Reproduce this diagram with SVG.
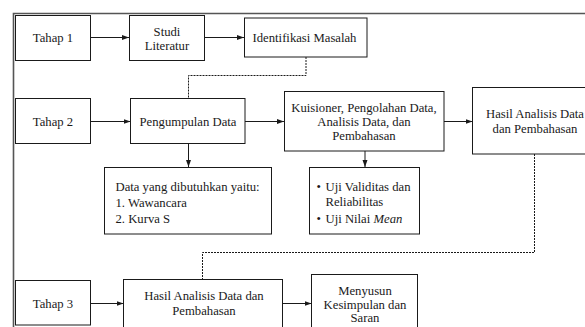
<svg xmlns="http://www.w3.org/2000/svg" width="585" height="327" viewBox="0 0 585 327">
<style>
text{font-family:'Liberation Serif',serif;font-size:12.7px;fill:#1a1a1a}
.b{fill:#fff;stroke:#1a1a1a;stroke-width:1}
.c{text-anchor:middle}
.a{stroke:#1a1a1a;stroke-width:1;fill:none}
.d{stroke:#1a1a1a;stroke-width:1;fill:none;stroke-dasharray:2 1}
</style>
<defs>
<marker id="ah" markerWidth="7" markerHeight="6" refX="7" refY="3" orient="auto" markerUnits="userSpaceOnUse">
<path d="M0,0.5 L7,3 L0,5.5 Z" fill="#1a1a1a"/>
</marker>
</defs>
<rect width="585" height="327" fill="#fff"/>
<path d="M13.5,327 L13.5,13.5 L585,13.5" fill="none" stroke="#555" stroke-width="1.6"/>
<g id="connectors">
<line class="a" x1="91" y1="37.5" x2="129" y2="37.5" marker-end="url(#ah)"/>
<line class="a" x1="204" y1="37.5" x2="244" y2="37.5" marker-end="url(#ah)"/>
<path class="d" d="M306,57 V75.5 H188.5 V98"/>
<line class="a" x1="91" y1="121.5" x2="130.5" y2="121.5" marker-end="url(#ah)"/>
<line class="a" x1="245" y1="121.5" x2="284" y2="121.5" marker-end="url(#ah)"/>
<line class="a" x1="444" y1="121.5" x2="472.5" y2="121.5" marker-end="url(#ah)"/>
<line class="a" x1="188.5" y1="143" x2="188.5" y2="167" marker-end="url(#ah)"/>
<line class="a" x1="365" y1="151" x2="365" y2="167" marker-end="url(#ah)"/>
<path class="d" d="M534.5,154 V252.5 H202.5 V279"/>
<line class="a" x1="91" y1="303.5" x2="123.5" y2="303.5" marker-end="url(#ah)"/>
<line class="a" x1="283" y1="303.5" x2="311.5" y2="303.5" marker-end="url(#ah)"/>
</g>
<g font-family="Liberation Serif">
<g id="tahap1"><rect class="b" x="15.5" y="15.5" width="75" height="45"/><text class="c" x="53" y="42" font-family="Liberation Serif">Tahap 1</text></g>
<g id="studi"><rect class="b" x="129.5" y="15.5" width="75" height="45"/><text class="c" x="167" y="35.5">Studi</text><text class="c" x="167" y="50">Literatur</text></g>
<g id="identifikasi"><rect class="b" x="244.5" y="18" width="122.5" height="39"/><text class="c" x="304.5" y="42">Identifikasi Masalah</text></g>
<g id="tahap2"><rect class="b" x="15.5" y="98.5" width="75" height="45"/><text class="c" x="53" y="126">Tahap 2</text></g>
<g id="pengumpulan"><rect class="b" x="130.5" y="98.5" width="114.5" height="45"/><text class="c" x="188" y="126">Pengumpulan Data</text></g>
<g id="kuisioner"><rect class="b" x="284.5" y="91.5" width="159.5" height="59.5"/><text class="c" x="364" y="112">Kuisioner, Pengolahan Data,</text><text class="c" x="364" y="126">Analisis Data, dan</text><text class="c" x="364" y="140">Pembahasan</text></g>
<g id="hasil1"><rect class="b" x="472.5" y="87.5" width="125" height="66.5"/><text class="c" x="535" y="118">Hasil Analisis Data</text><text class="c" x="535" y="133">dan Pembahasan</text></g>
<g id="data"><rect class="b" x="104.5" y="167.5" width="167" height="66.5"/><text x="115.5" y="190.5">Data yang dibutuhkan yaitu:</text><text x="115.5" y="206.5">1. Wawancara</text><text x="115.5" y="222.5">2. Kurva S</text></g>
<g id="uji"><rect class="b" x="309.5" y="167.5" width="110" height="66.5"/><text x="316.5" y="190.5">•</text><text x="325.5" y="190.5">Uji Validitas dan</text><text x="325.5" y="206">Reliabilitas</text><text x="316.5" y="222.5">•</text><text x="325.5" y="222.5">Uji Nilai <tspan font-style="italic">Mean</tspan></text></g>
<g id="tahap3"><rect class="b" x="15.5" y="280.5" width="75" height="44.5"/><text class="c" x="53" y="308">Tahap 3</text></g>
<g id="hasil2"><rect class="b" x="123.5" y="279.5" width="159" height="60"/><text class="c" x="204" y="300">Hasil Analisis Data dan</text><text class="c" x="204" y="315">Pembahasan</text></g>
<g id="menyusun"><rect class="b" x="311.5" y="274.5" width="106" height="65"/><text class="c" x="365" y="294.5">Menyusun</text><text class="c" x="365" y="308.5">Kesimpulan dan</text><text class="c" x="365" y="322">Saran</text></g>
</g>
</svg>
